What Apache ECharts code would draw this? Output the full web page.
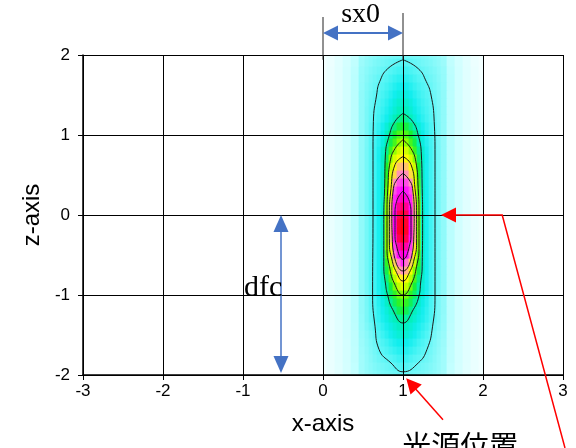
<!DOCTYPE html>
<html><head><meta charset="utf-8">
<script src="https://cdn.jsdelivr.net/npm/echarts@6/dist/echarts.min.js"></script>
<style>html,body{margin:0;padding:0;background:#fff}#c{width:576px;height:448px}</style>
</head><body><div id="c"></div>
<script>
// ---- axis ticks ----
const xTicks = [-3, -2, -1, 0, 1, 2, 3];
const zTicks = [-2, -1, 0, 1, 2];

// ---- intensity field, columns = x positions, rows = z positions (top to bottom) ----
const xCols = [0, 0.1, 0.2, 0.3, 0.4, 0.5, 0.55, 0.6, 0.65, 0.7, 0.75, 0.8, 0.85, 0.9, 0.95, 1.0, 1.05, 1.1, 1.15, 1.2, 1.25, 1.3, 1.35, 1.4, 1.45, 1.5, 1.6, 1.7, 1.8, 1.9, 2.0];
const zRows = [2.0, 1.9, 1.8, 1.7, 1.6, 1.5, 1.4, 1.3, 1.2, 1.1, 1.0, 0.9, 0.8, 0.7, 0.6, 0.5, 0.4, 0.3, 0.2, 0.1, 0.0, -0.1, -0.2, -0.3, -0.4, -0.5, -0.6, -0.7, -0.8, -0.9, -1.0, -1.1, -1.2, -1.3, -1.4, -1.5, -1.6, -1.7, -1.8, -1.9, -2.0];
const intensity = [
[.11,.17,.26,.38,.52,.68,.73,.77,.8,.83,.85,.87,.88,.89,.9,.9,.9,.89,.88,.87,.85,.83,.8,.77,.73,.68,.52,.38,.26,.17,.11],
[.11,.17,.26,.39,.53,.7,.76,.8,.84,.87,.9,.93,.96,.99,1.04,1.06,1.04,.99,.96,.93,.9,.87,.84,.8,.76,.7,.53,.39,.26,.17,.11],
[.11,.18,.27,.4,.55,.73,.79,.84,.88,.92,.96,1.0,1.06,1.12,1.18,1.2,1.18,1.12,1.06,1.0,.96,.92,.88,.84,.79,.73,.55,.4,.27,.18,.11],
[.12,.18,.27,.4,.56,.74,.81,.87,.92,.97,1.02,1.08,1.16,1.25,1.32,1.35,1.32,1.25,1.16,1.08,1.02,.97,.92,.87,.81,.74,.56,.4,.27,.18,.12],
[.12,.18,.27,.4,.56,.75,.83,.89,.95,1.01,1.08,1.16,1.26,1.37,1.46,1.5,1.46,1.37,1.26,1.16,1.08,1.01,.95,.89,.83,.75,.56,.4,.27,.18,.12],
[.12,.18,.27,.4,.56,.76,.85,.92,.99,1.06,1.14,1.24,1.36,1.49,1.6,1.65,1.6,1.49,1.36,1.24,1.14,1.06,.99,.92,.85,.76,.56,.4,.27,.18,.12],
[.12,.18,.27,.4,.56,.76,.86,.94,1.02,1.1,1.2,1.32,1.46,1.61,1.74,1.8,1.74,1.61,1.46,1.32,1.2,1.1,1.02,.94,.86,.76,.56,.4,.27,.18,.12],
[.12,.18,.27,.4,.56,.76,.87,.96,1.04,1.14,1.25,1.39,1.55,1.72,1.88,1.95,1.88,1.72,1.55,1.39,1.25,1.14,1.04,.96,.87,.76,.56,.4,.27,.18,.12],
[.12,.18,.27,.4,.56,.76,.87,.97,1.07,1.18,1.32,1.48,1.68,1.9,2.1,2.2,2.1,1.9,1.68,1.48,1.32,1.18,1.07,.97,.87,.76,.56,.4,.27,.18,.12],
[.12,.18,.27,.4,.56,.76,.88,1.0,1.12,1.27,1.45,1.68,1.95,2.2,2.42,2.5,2.42,2.2,1.95,1.68,1.45,1.27,1.12,1.0,.88,.76,.56,.4,.27,.18,.12],
[.12,.18,.27,.4,.56,.76,.88,1.0,1.15,1.32,1.55,1.86,2.22,2.5,2.72,2.8,2.72,2.5,2.22,1.86,1.55,1.32,1.15,1.0,.88,.76,.56,.4,.27,.18,.12],
[.12,.18,.27,.4,.56,.76,.88,1.01,1.17,1.36,1.62,2.0,2.4,2.7,3.0,3.2,3.0,2.7,2.4,2.0,1.62,1.36,1.17,1.01,.88,.76,.56,.4,.27,.18,.12],
[.12,.18,.27,.4,.56,.76,.89,1.02,1.2,1.42,1.75,2.15,2.65,3.1,3.45,3.65,3.45,3.1,2.65,2.15,1.75,1.42,1.2,1.02,.89,.76,.56,.4,.27,.18,.12],
[.12,.18,.27,.4,.56,.76,.89,1.02,1.2,1.45,1.8,2.3,3.0,3.5,3.95,4.15,3.95,3.5,3.0,2.3,1.8,1.45,1.2,1.02,.89,.76,.56,.4,.27,.18,.12],
[.12,.18,.27,.4,.56,.76,.89,1.02,1.2,1.42,1.75,2.5,3.4,4.05,4.45,4.6,4.45,4.05,3.4,2.5,1.75,1.42,1.2,1.02,.89,.76,.56,.4,.27,.18,.12],
[.12,.18,.27,.4,.56,.76,.89,1.02,1.2,1.44,1.78,2.55,3.6,4.3,4.92,5.1,4.92,4.3,3.6,2.55,1.78,1.44,1.2,1.02,.89,.76,.56,.4,.27,.18,.12],
[.12,.18,.27,.4,.56,.76,.89,1.02,1.2,1.44,1.78,2.7,3.8,4.95,5.4,5.55,5.4,4.95,3.8,2.7,1.78,1.44,1.2,1.02,.89,.76,.56,.4,.27,.18,.12],
[.12,.18,.27,.4,.56,.76,.89,1.02,1.2,1.45,1.8,2.8,4.0,5.4,5.8,6.0,5.8,5.4,4.0,2.8,1.8,1.45,1.2,1.02,.89,.76,.56,.4,.27,.18,.12],
[.12,.18,.27,.4,.56,.76,.89,1.02,1.2,1.45,1.75,2.9,4.3,5.7,6.2,6.4,6.2,5.7,4.3,2.9,1.75,1.45,1.2,1.02,.89,.76,.56,.4,.27,.18,.12],
[.12,.18,.27,.4,.56,.76,.89,1.02,1.2,1.45,1.8,3.0,4.6,5.85,6.6,6.8,6.6,5.85,4.6,3.0,1.8,1.45,1.2,1.02,.89,.76,.56,.4,.27,.18,.12],
[.12,.18,.27,.4,.56,.76,.89,1.02,1.2,1.45,1.8,3.0,4.7,6.0,6.9,7.15,6.9,6.0,4.7,3.0,1.8,1.45,1.2,1.02,.89,.76,.56,.4,.27,.18,.12],
[.12,.18,.27,.4,.56,.76,.89,1.02,1.2,1.45,1.8,3.0,4.7,6.0,7.1,7.4,7.1,6.0,4.7,3.0,1.8,1.45,1.2,1.02,.89,.76,.56,.4,.27,.18,.12],
[.12,.18,.27,.4,.56,.76,.89,1.02,1.2,1.45,1.8,3.0,4.7,6.0,7.15,7.45,7.15,6.0,4.7,3.0,1.8,1.45,1.2,1.02,.89,.76,.56,.4,.27,.18,.12],
[.12,.18,.27,.4,.56,.76,.89,1.02,1.2,1.45,1.8,3.0,4.6,5.85,6.9,7.2,6.9,5.85,4.6,3.0,1.8,1.45,1.2,1.02,.89,.76,.56,.4,.27,.18,.12],
[.12,.18,.27,.4,.56,.76,.89,1.02,1.2,1.45,1.8,3.0,4.2,5.55,6.45,6.75,6.45,5.55,4.2,3.0,1.8,1.45,1.2,1.02,.89,.76,.56,.4,.27,.18,.12],
[.12,.18,.27,.4,.56,.76,.89,1.02,1.2,1.45,1.78,2.8,3.85,5.25,5.95,6.3,5.95,5.25,3.85,2.8,1.78,1.45,1.2,1.02,.89,.76,.56,.4,.27,.18,.12],
[.12,.18,.27,.4,.56,.76,.89,1.02,1.2,1.45,1.8,2.6,3.4,4.4,5.15,5.7,5.15,4.4,3.4,2.6,1.8,1.45,1.2,1.02,.89,.76,.56,.4,.27,.18,.12],
[.12,.18,.27,.4,.56,.76,.89,1.02,1.2,1.45,1.8,2.4,3.0,3.85,4.6,5.0,4.6,3.85,3.0,2.4,1.8,1.45,1.2,1.02,.89,.76,.56,.4,.27,.18,.12],
[.12,.18,.27,.4,.56,.76,.89,1.02,1.2,1.43,1.75,2.2,2.7,3.3,3.95,4.2,3.95,3.3,2.7,2.2,1.75,1.43,1.2,1.02,.89,.76,.56,.4,.27,.18,.12],
[.12,.18,.27,.4,.56,.76,.88,1.01,1.19,1.42,1.7,2.05,2.45,2.9,3.35,3.55,3.35,2.9,2.45,2.05,1.7,1.42,1.19,1.01,.88,.76,.56,.4,.27,.18,.12],
[.12,.18,.27,.4,.56,.76,.88,1.0,1.18,1.4,1.65,2.0,2.3,2.6,2.88,3.0,2.88,2.6,2.3,2.0,1.65,1.4,1.18,1.0,.88,.76,.56,.4,.27,.18,.12],
[.12,.18,.27,.4,.56,.76,.88,1.0,1.15,1.35,1.55,1.8,2.1,2.35,2.6,2.7,2.6,2.35,2.1,1.8,1.55,1.35,1.15,1.0,.88,.76,.56,.4,.27,.18,.12],
[.12,.18,.27,.4,.56,.76,.87,.99,1.13,1.3,1.47,1.66,1.88,2.12,2.35,2.45,2.35,2.12,1.88,1.66,1.47,1.3,1.13,.99,.87,.76,.56,.4,.27,.18,.12],
[.12,.18,.27,.4,.56,.75,.87,.98,1.12,1.27,1.42,1.57,1.74,1.9,2.05,2.15,2.05,1.9,1.74,1.57,1.42,1.27,1.12,.98,.87,.75,.56,.4,.27,.18,.12],
[.12,.18,.27,.4,.55,.74,.84,.93,1.04,1.18,1.31,1.44,1.58,1.72,1.84,1.9,1.84,1.72,1.58,1.44,1.31,1.18,1.04,.93,.84,.74,.55,.4,.27,.18,.12],
[.12,.18,.27,.4,.54,.72,.8,.88,.97,1.09,1.21,1.34,1.47,1.6,1.7,1.75,1.7,1.6,1.47,1.34,1.21,1.09,.97,.88,.8,.72,.54,.4,.27,.18,.12],
[.12,.18,.27,.39,.54,.7,.78,.85,.93,1.02,1.1,1.2,1.32,1.42,1.51,1.55,1.51,1.42,1.32,1.2,1.1,1.02,.93,.85,.78,.7,.54,.39,.27,.18,.12],
[.12,.18,.27,.39,.53,.69,.76,.83,.9,.97,1.03,1.1,1.19,1.28,1.36,1.4,1.36,1.28,1.19,1.1,1.03,.97,.9,.83,.76,.69,.53,.39,.27,.18,.12],
[.12,.18,.27,.39,.53,.68,.75,.81,.87,.92,.96,1.01,1.06,1.13,1.21,1.25,1.21,1.13,1.06,1.01,.96,.92,.87,.81,.75,.68,.53,.39,.27,.18,.12],
[.12,.18,.26,.38,.52,.68,.74,.79,.83,.87,.9,.93,.96,1.0,1.06,1.1,1.06,1.0,.96,.93,.9,.87,.83,.79,.74,.68,.52,.38,.26,.18,.12],
[.11,.17,.26,.38,.51,.66,.72,.76,.8,.83,.86,.88,.9,.92,.94,.95,.94,.92,.9,.88,.86,.83,.8,.76,.72,.66,.51,.38,.26,.17,.11]
];

// ---- contour lines: [x, z] ----
const contour1 = [[1.0,1.94],[1.19,1.83],[1.29,1.67],[1.35,1.5],[1.39,1.17],[1.4,0.75],[1.4,0],[1.4,-1.0],[1.37,-1.39],[1.3,-1.68],[1.19,-1.85],[1.0,-1.96],[0.85,-1.85],[0.7,-1.68],[0.65,-1.39],[0.62,-1.0],[0.625,0],[0.625,0.75],[0.63,1.17],[0.67,1.5],[0.71,1.67],[0.81,1.83],[1.0,1.94]];
const contour2 = [[1.0,1.27],[1.12,1.17],[1.19,1.0],[1.23,0.75],[1.24,0.33],[1.245,0],[1.24,-0.64],[1.22,-0.85],[1.2,-1.01],[1.13,-1.18],[1.0,-1.35],[0.87,-1.18],[0.81,-1.01],[0.78,-0.85],[0.76,-0.64],[0.76,0],[0.77,0.33],[0.78,0.75],[0.83,1.0],[0.9,1.17],[1.0,1.27]];
const contour3 = [[1.0,0.94],[1.1,0.83],[1.16,0.67],[1.19,0.33],[1.2,0],[1.2,-0.42],[1.17,-0.64],[1.11,-0.85],[1.0,-1.0],[0.89,-0.85],[0.83,-0.64],[0.8,-0.42],[0.8,0],[0.81,0.33],[0.84,0.67],[0.9,0.83],[1.0,0.94]];
const contour4 = [[1.0,0.73],[1.1,0.63],[1.15,0.33],[1.17,0],[1.17,-0.35],[1.14,-0.55],[1.08,-0.72],[1.0,-0.825],[0.92,-0.72],[0.86,-0.55],[0.83,-0.35],[0.83,0],[0.85,0.33],[0.9,0.63],[1.0,0.73]];
const contour5 = [[1.0,0.52],[1.07,0.45],[1.12,0.33],[1.14,0],[1.135,-0.26],[1.11,-0.51],[1.0,-0.7],[0.89,-0.51],[0.865,-0.26],[0.86,0],[0.88,0.33],[0.93,0.45],[1.0,0.52]];
const contour6 = [[1.0,0.3],[1.08,0.17],[1.1,0],[1.1,-0.22],[1.08,-0.39],[1.0,-0.555],[0.92,-0.39],[0.9,-0.22],[0.9,0],[0.92,0.17],[1.0,0.3]];

const chart = echarts.init(document.getElementById('c'), null, {renderer: 'canvas'});

const cells = [];
zRows.forEach((z, i) => {
  const zTop = i === 0 ? z : (zRows[i - 1] + z) / 2;
  const zBot = i === zRows.length - 1 ? z : (z + zRows[i + 1]) / 2;
  xCols.forEach((x, j) => {
    const xL = j === 0 ? x : (xCols[j - 1] + x) / 2;
    const xR = j === xCols.length - 1 ? x : (x + xCols[j + 1]) / 2;
    cells.push([x, z, intensity[i][j], xL, xR, zBot, zTop]);
  });
});

const contourSeries = [contour1, contour2, contour3, contour4, contour5, contour6].map(c => ({
  type: 'line', data: c, symbol: 'none', smooth: 0.5, z: 3, silent: true,
  lineStyle: {color: '#1a1a1a', width: 1}
}));

const axisFont = 'Liberation Sans';
chart.setOption({
  animation: false,
  backgroundColor: '#fff',
  grid: {left: 83, right: 13, top: 55, bottom: 73, outerBoundsMode: 'none', show: false},
  visualMap: {
    show: false, type: 'continuous', min: 0, max: 7.5, dimension: 2, seriesIndex: 0,
    inRange: {color: ['#ffffff', '#c6ffff', '#5ef6f6', '#10eeee', '#00f0b0', '#18f030', '#88ff00', '#d8ff00', '#ffff00', '#ffc070', '#ff8cc0', '#ff40f0', '#ff00ff', '#ff00a8', '#ff0040', '#ff0000']}
  },
  xAxis: {
    type: 'value', min: xTicks[0], max: xTicks[xTicks.length - 1], interval: 1, z: 10,
    name: 'x-axis', nameLocation: 'middle', nameGap: 37,
    nameTextStyle: {fontSize: 24, color: '#000', fontFamily: axisFont},
    axisLine: {show: true, onZero: false, lineStyle: {color: '#000', width: 1.5}},
    axisTick: {show: true, length: 5, lineStyle: {color: '#000'}},
    splitLine: {show: true, lineStyle: {color: '#000', width: 1}},
    axisLabel: {fontSize: 17, color: '#000', margin: 8, fontFamily: axisFont}
  },
  yAxis: {
    type: 'value', min: zTicks[0], max: zTicks[zTicks.length - 1], interval: 1, z: 10,
    name: 'z-axis', nameLocation: 'middle', nameGap: 36,
    nameTextStyle: {fontSize: 24, color: '#000', fontFamily: axisFont},
    axisLine: {show: true, onZero: false, lineStyle: {color: '#000', width: 1.5}},
    axisTick: {show: true, length: 5, lineStyle: {color: '#000'}},
    splitLine: {show: true, lineStyle: {color: '#000', width: 1}},
    axisLabel: {fontSize: 17, color: '#000', margin: 13, fontFamily: axisFont}
  },
  series: [{
    type: 'custom', data: cells, z: 1, silent: true, clip: true,
    encode: {x: 0, y: 1},
    renderItem: function (params, api) {
      const a = api.coord([api.value(3), api.value(6)]);
      const b = api.coord([api.value(4), api.value(5)]);
      return {type: 'rect', shape: {x: a[0] - 0.4, y: a[1] - 0.4, width: b[0] - a[0] + 0.8, height: b[1] - a[1] + 0.8},
        style: {fill: api.visual('color')}};
    }
  }].concat(contourSeries)
});

// ---- annotations, placed through the axis scales ----
function P(x, z) { return chart.convertToPixel({gridIndex: 0}, [x, z]); }
function head(tip, from, len, half, color) {
  const dx = tip[0] - from[0], dy = tip[1] - from[1], L = Math.hypot(dx, dy), ux = dx / L, uy = dy / L;
  const bx = tip[0] - ux * len, by = tip[1] - uy * len;
  return {type: 'polygon', z: 100, shape: {points: [tip, [bx - uy * half, by + ux * half], [bx + uy * half, by - ux * half]]}, style: {fill: color}};
}
function base(tip, from, len) {
  const dx = tip[0] - from[0], dy = tip[1] - from[1], L = Math.hypot(dx, dy);
  return [tip[0] - dx / L * len, tip[1] - dy / L * len];
}
const blue = '#4472c4', red = '#ff0000';
const g = [];
// sx0
const sL = P(0, 2.275), sR = P(1, 2.275);
g.push({type: 'line', z: 100, shape: {x1: P(0, 2.475)[0], y1: P(0, 2.475)[1], x2: P(0, 1.94)[0], y2: P(0, 1.94)[1]}, style: {stroke: '#222', lineWidth: 1}});
g.push({type: 'line', z: 100, shape: {x1: P(1, 2.525)[0], y1: P(1, 2.525)[1], x2: P(1, 1.94)[0], y2: P(1, 1.94)[1]}, style: {stroke: '#222', lineWidth: 1}});
const sb1 = base(sL, sR, 14), sb2 = base(sR, sL, 14);
g.push({type: 'line', z: 100, shape: {x1: sb1[0], y1: sb1[1], x2: sb2[0], y2: sb2[1]}, style: {stroke: blue, lineWidth: 2}});
g.push(head(sL, sR, 15, 7.5, blue), head(sR, sL, 15, 7.5, blue));
const sT = P(0.47, 2.325);
g.push({type: 'text', z: 100, x: sT[0], y: sT[1], style: {text: 'sx0', font: '28px "Liberation Serif"', fill: '#000', align: 'center', verticalAlign: 'bottom'}});
// dfc
const dT = P(-0.525, 0), dB = P(-0.525, -1.975);
const db1 = base(dT, dB, 16), db2 = base(dB, dT, 16);
g.push({type: 'line', z: 100, shape: {x1: db1[0], y1: db1[1], x2: db2[0], y2: db2[1]}, style: {stroke: blue, lineWidth: 1.5}});
g.push(head(dT, dB, 17, 7.5, blue), head(dB, dT, 17, 7.5, blue));
const dL = P(-0.51, -1.1);
g.push({type: 'text', z: 100, x: dL[0], y: dL[1], style: {text: 'dfc', font: '30px "Liberation Serif"', fill: '#000', align: 'right', verticalAlign: 'bottom'}});
// red arrow 1
const r1Tip = P(1.475, 0), r1Knee = P(2.24, 0), r1End = P(3.025, -2.9125);
const r1b = base(r1Tip, r1Knee, 15);
g.push({type: 'polyline', z: 100, shape: {points: [r1End, r1Knee, r1b]}, style: {stroke: red, lineWidth: 1.5, fill: null}});
g.push(head(r1Tip, r1Knee, 15, 7.5, red));
// red arrow 2
const r2Tip = P(1.04, -2.04), r2Tail = P(1.5, -2.56);
const r2b = base(r2Tip, r2Tail, 14);
g.push({type: 'line', z: 100, shape: {x1: r2Tail[0], y1: r2Tail[1], x2: r2b[0], y2: r2b[1]}, style: {stroke: red, lineWidth: 1.5}});
g.push(head(r2Tip, r2Tail, 15, 7.5, red));
const lT = P(0.99, -2.7);
g.push({type: 'text', z: 100, x: lT[0], y: lT[1], style: {text: '光源位置', font: '29px "Noto Sans CJK JP"', fill: '#000', align: 'left', verticalAlign: 'top'}});
chart.setOption({graphic: {elements: g}});
</script>
</body></html>
